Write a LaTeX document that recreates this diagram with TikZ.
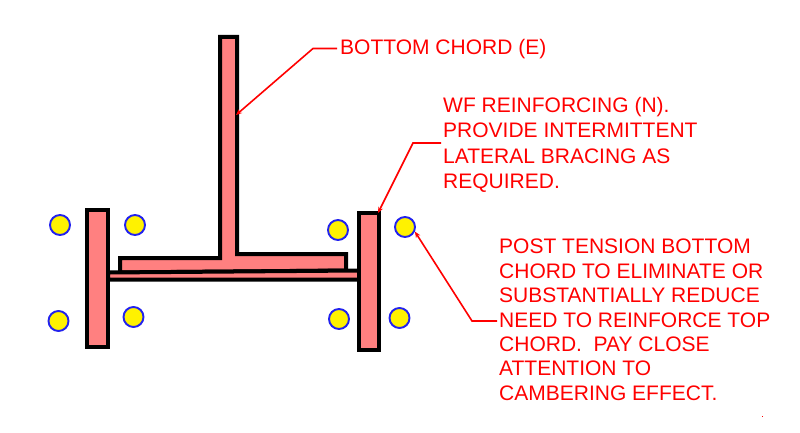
\documentclass[tikz,border=0pt]{standalone}
\usepackage{fontspec}
\setmainfont{Liberation Sans}
\definecolor{steelpink}{HTML}{FF8080}
\definecolor{boltblue}{HTML}{2222EE}
\usetikzlibrary{arrows.meta}
\tikzset{
  x=1pt,y=-1pt,
  member/.style={draw=black,fill=steelpink,line width=4pt,line join=miter},
  bolt/.style={circle,draw=boltblue,fill=yellow,line width=1.9pt,minimum size=20pt,inner sep=0pt},
  note/.style={text=red,font=\fontsize{21}{24.4}\selectfont,align=left,anchor=north west,inner sep=0pt},
  leader/.style={draw=red,line width=1.6pt,-{Stealth[length=6pt,width=5pt]}}
}
\begin{document}
\begin{tikzpicture}
\useasboundingbox (0,0) rectangle (800,433);
% tee
\draw[member] (220,37) -- (237,37) -- (237,254) -- (346,254) -- (346,270.5) -- (120,272.5) -- (120,258) -- (220,258) -- cycle;
% wide flange web
\draw[member] (108,272.5) -- (359,270.5) -- (359,279.5) -- (108,279.5) -- cycle;
% flanges
\draw[member] (87,210) rectangle (108,347);
\draw[member] (359,212.5) rectangle (379,350);
% bolts
\node[bolt] (b1) at (60,225) {};
\node[bolt] (b2) at (135,225) {};
\node[bolt] (b3) at (58.5,321) {};
\node[bolt] (b4) at (133.5,317) {};
\node[bolt] (b5) at (338,230) {};
\node[bolt] (b6) at (405,227) {};
\node[bolt] (b7) at (339,319) {};
\node[bolt] (b8) at (399.5,318) {};
% notes
\node[note] (chord) at (340,39) {BOTTOM CHORD (E)};
\node[note,font=\fontsize{21}{25.3}\selectfont] (wf) at (443,97) {WF REINFORCING (N).\\PROVIDE INTERMITTENT\\LATERAL BRACING AS\\REQUIRED.};
\node[note] (post) at (499,239) {POST TENSION BOTTOM\\CHORD TO ELIMINATE OR\\SUBSTANTIALLY REDUCE\\NEED TO REINFORCE TOP\\CHORD.\ \ PAY CLOSE\\ATTENTION TO\\CAMBERING EFFECT.};
% leaders
\coordinate (chordS) at (337,48.5);
\coordinate (chordK) at (313,48.5);
\coordinate (chordE) at (236,115);
\coordinate (wfS) at (441,143);
\coordinate (wfK) at (413,143);
\coordinate (wfE) at (378,213);
\coordinate (postS) at (497,321);
\coordinate (postK) at (472,321);
\draw[leader] (chordS) -- (chordK) -- (chordE);
\draw[leader] (wfS) -- (wfK) -- (wfE);
\draw[leader] (postS) -- (postK) -- (b6.-25);
\fill[red] (761.5,415.5) rectangle (763,417);
\end{tikzpicture}
\end{document}
